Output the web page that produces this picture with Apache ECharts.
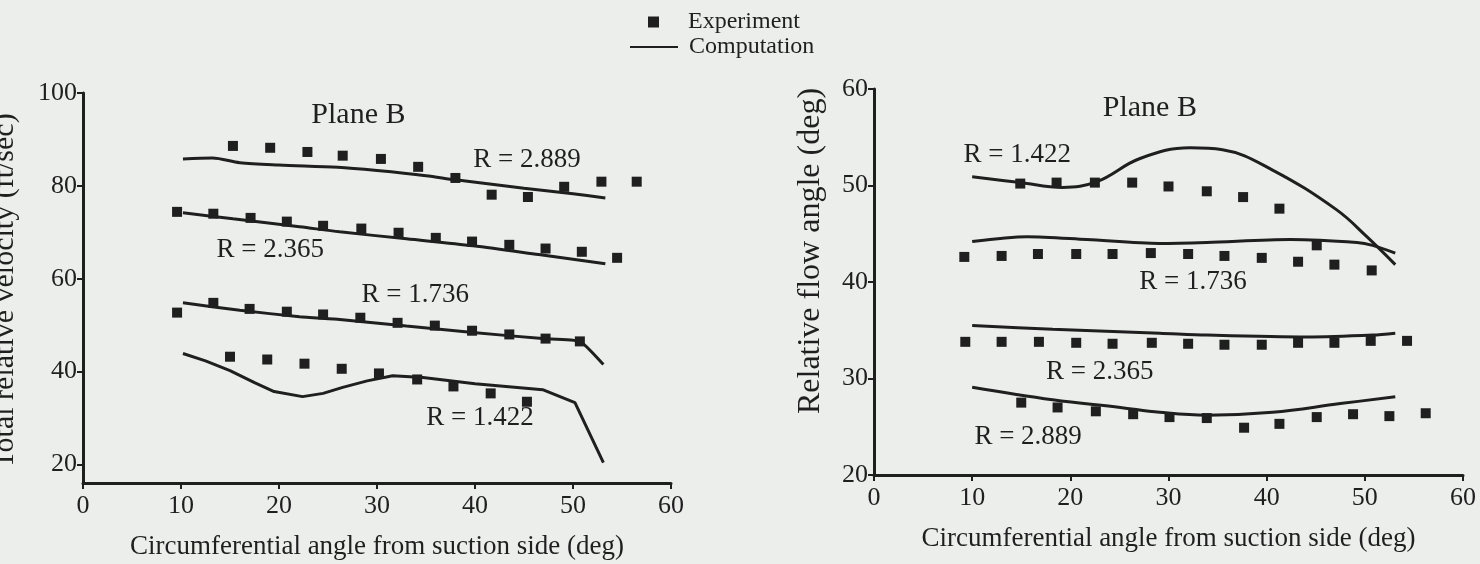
<!DOCTYPE html>
<html>
<head>
<meta charset="utf-8">
<script src="https://cdn.jsdelivr.net/npm/echarts@6/dist/echarts.min.js"></script>
<style>
html,body{margin:0;padding:0;background:#eceeec;}
#c{width:1480px;height:564px;}
</style>
</head>
<body>
<div id="c"></div>
<script>
// ---- Left panel: total relative velocity (ft/sec) ----
const velExp2889 = [[15.3,88.6],[19.1,88.2],[22.9,87.3],[26.5,86.5],[30.4,85.8],[34.2,84.1],[38.0,81.7],[41.7,78.1],[45.4,77.6],[49.1,79.8],[52.9,80.9],[56.5,80.9]];
const velExp2365 = [[9.6,74.4],[13.3,74.0],[17.1,73.1],[20.8,72.3],[24.5,71.4],[28.4,70.8],[32.2,69.9],[36.0,68.8],[39.7,68.0],[43.5,67.3],[47.2,66.5],[50.9,65.8],[54.5,64.5]];
const velExp1736 = [[9.6,52.7],[13.3,54.8],[17.0,53.5],[20.8,52.9],[24.5,52.3],[28.3,51.6],[32.1,50.5],[35.9,49.9],[39.7,48.8],[43.5,48.0],[47.2,47.1],[50.7,46.5]];
const velExp1422 = [[15.0,43.2],[18.8,42.6],[22.6,41.7],[26.4,40.6],[30.2,39.6],[34.1,38.3],[37.8,36.8],[41.6,35.3],[45.3,33.5]];
const velCmp2889 = [[10.2,85.8],[13.2,86.0],[16.0,85.0],[20.0,84.5],[26.0,84.0],[30.0,83.3],[35.0,82.2],[38.0,81.3],[45.0,79.5],[50.0,78.3],[53.3,77.4]];
const velCmp2365 = [[10.2,74.2],[15.3,72.9],[22.1,71.2],[26.2,70.1],[33.0,68.6],[39.8,67.1],[46.5,65.2],[53.3,63.2]];
const velCmp1736 = [[10.2,54.8],[16.0,53.2],[22.1,51.8],[26.2,51.2],[33.0,49.8],[39.8,48.4],[46.9,47.1],[50.7,46.5],[53.1,41.5]];
const velCmp1422 = [[10.2,43.9],[12.5,42.3],[15.0,40.2],[17.5,37.6],[19.5,35.7],[22.4,34.6],[24.5,35.3],[26.5,36.6],[29.0,38.0],[31.6,39.1],[34.7,38.7],[40.0,37.4],[46.9,36.1],[50.2,33.3],[53.1,20.4]];
const velLabels = [[28.1,95.3,'Plane B'],[45.3,85.6,'R = 2.889'],[19.1,66.2,'R = 2.365'],[33.9,56.6,'R = 1.736'],[40.5,30.1,'R = 1.422']];

// ---- Right panel: relative flow angle (deg) ----
const angExp1422 = [[14.9,50.2],[18.6,50.3],[22.5,50.3],[26.3,50.3],[30.0,49.9],[33.9,49.4],[37.6,48.8],[41.3,47.6],[45.1,43.8]];
const angExp1736 = [[9.2,42.6],[13.0,42.7],[16.7,42.9],[20.6,42.9],[24.3,42.9],[28.2,43.0],[32.0,42.9],[35.7,42.7],[39.5,42.5],[43.2,42.1],[46.9,41.8],[50.7,41.2]];
const angExp2365 = [[9.3,33.8],[13.0,33.8],[16.8,33.8],[20.6,33.7],[24.3,33.6],[28.3,33.7],[32.0,33.6],[35.7,33.5],[39.5,33.5],[43.2,33.7],[46.9,33.7],[50.6,33.9],[54.3,33.9]];
const angExp2889 = [[15.0,27.5],[18.7,27.0],[22.6,26.6],[26.4,26.3],[30.1,26.0],[33.9,25.9],[37.7,24.9],[41.3,25.3],[45.1,26.0],[48.8,26.3],[52.5,26.1],[56.2,26.4]];
const angCmp1422 = [[10.0,50.9],[14.9,50.3],[19.2,49.8],[22.7,50.4],[27.1,52.8],[32.2,53.9],[35.5,53.7],[40.6,51.6],[47.1,47.5],[50.2,44.7],[53.1,41.8]];
const angCmp1736 = [[10.0,44.2],[15.6,44.7],[21.7,44.4],[29.1,44.0],[33.9,44.1],[42.4,44.4],[49.2,44.1],[50.8,43.8],[53.1,43.0]];
const angCmp2365 = [[10.0,35.5],[18.2,35.1],[29.1,34.7],[33.9,34.5],[44.1,34.3],[50.8,34.5],[53.1,34.7]];
const angCmp2889 = [[10.0,29.1],[18.2,27.8],[25.1,27.0],[29.1,26.5],[33.9,26.2],[40.6,26.5],[47.5,27.4],[53.1,28.1]];
const angLabels = [[28.1,58.0,'Plane B'],[14.6,53.2,'R = 1.422'],[32.5,40.0,'R = 1.736'],[23.0,30.7,'R = 2.365'],[15.7,23.9,'R = 2.889']];

const xTicks = [0,10,20,30,40,50,60];
const velTicks = [20,40,60,80,100];
const angTicks = [20,30,40,50,60];

const INK = '#1f1f1f';
const FONT = 'Liberation Serif';

function expSeries(data, idx){
  return {type:'scatter', name:'Experiment', xAxisIndex:idx, yAxisIndex:idx, data:data,
    symbol:'rect', symbolSize:10, itemStyle:{color:INK, opacity:1}, z:3, silent:true};
}
function cmpSeries(data, idx, smooth){
  return {type:'line', name:'Computation', xAxisIndex:idx, yAxisIndex:idx, data:data,
    symbol:'none', smooth:smooth, lineStyle:{color:INK, width:3}, itemStyle:{color:INK}, z:2, silent:true};
}
function labelSeries(data, idx){
  return {type:'scatter', name:'labels', xAxisIndex:idx, yAxisIndex:idx, symbolSize:0,
    itemStyle:{opacity:1},
    data:data.map(d=>({value:[d[0],d[1]], label:{fontSize: d[2]==='Plane B'?30:27}, name:d[2]})),
    label:{show:true, position:'inside', formatter:p=>p.name, color:INK, opacity:1, fontFamily:FONT, fontSize:27},
    silent:true, z:4};
}
function xAxis(idx){
  return {type:'value', gridIndex:idx, min:0, max:60,
    axisLine:{show:true, lineStyle:{color:INK, width:3}},
    axisTick:{show:true, length:6, lineStyle:{color:INK, width:2}, customValues:xTicks},
    axisLabel:{color:INK, fontFamily:FONT, fontSize:26, margin:10, customValues:xTicks},
    splitLine:{show:false},
    name:'Circumferential angle from suction side (deg)', nameLocation:'middle', nameGap:50,
    nameTextStyle:{color:INK, fontFamily:FONT, fontSize:27}};
}
function yAxis(idx, min, max, ticks, name, gap, size, pad){
  return {type:'value', gridIndex:idx, min:min, max:max,
    axisLine:{show:true, lineStyle:{color:INK, width:3}},
    axisTick:{show:true, length:6, lineStyle:{color:INK, width:2}, customValues:ticks},
    axisLabel:{color:INK, fontFamily:FONT, fontSize:26, margin:6, customValues:ticks},
    splitLine:{show:false},
    name:name, nameLocation:'middle', nameGap:gap, nameRotate:90,
    nameTextStyle:{color:INK, fontFamily:FONT, fontSize:size, padding:pad}};
}

const chart = echarts.init(document.getElementById('c'), null, {renderer:'canvas'});
chart.setOption({
  backgroundColor:'#eceeec',
  animation:false,
  textStyle:{fontFamily:FONT},
  legend:[
    {data:[{name:'Experiment', icon:'rect', itemStyle:{color:INK, opacity:1}}], left:643, top:5, itemWidth:11, itemHeight:11,
     textStyle:{color:INK, fontFamily:FONT, fontSize:24, padding:[0,0,0,24]}, selectedMode:false},
    {data:[{name:'Computation', icon:'rect', itemStyle:{color:INK}}], left:625, top:30, itemWidth:48, itemHeight:2,
     textStyle:{color:INK, fontFamily:FONT, fontSize:24, padding:[0,0,0,6]}, selectedMode:false}
  ],
  grid:[
    {left:83, right:809, top:93, bottom:81, containLabel:false, outerBoundsMode:'none'},
    {left:874, right:17, top:89, bottom:89, containLabel:false, outerBoundsMode:'none'}
  ],
  xAxis:[xAxis(0), xAxis(1)],
  yAxis:[
    yAxis(0, 16, 100, velTicks, 'Total relative velocity (ft/sec)', 63, 30, [0,6,0,0]),
    yAxis(1, 20, 60, angTicks, 'Relative flow angle (deg)', 47, 32, [0,0,0,62])
  ],
  series:[
    cmpSeries(velCmp2889,0,0.3), cmpSeries(velCmp2365,0,0.3), cmpSeries(velCmp1736,0,0.15), cmpSeries(velCmp1422,0,false),
    expSeries(velExp2889,0), expSeries(velExp2365,0), expSeries(velExp1736,0), expSeries(velExp1422,0),
    labelSeries(velLabels,0),
    cmpSeries(angCmp1422,1,0.4), cmpSeries(angCmp1736,1,0.3), cmpSeries(angCmp2365,1,0.3), cmpSeries(angCmp2889,1,0.4),
    expSeries(angExp1422,1), expSeries(angExp1736,1), expSeries(angExp2365,1), expSeries(angExp2889,1),
    labelSeries(angLabels,1)
  ]
});
</script>
</body>
</html>
